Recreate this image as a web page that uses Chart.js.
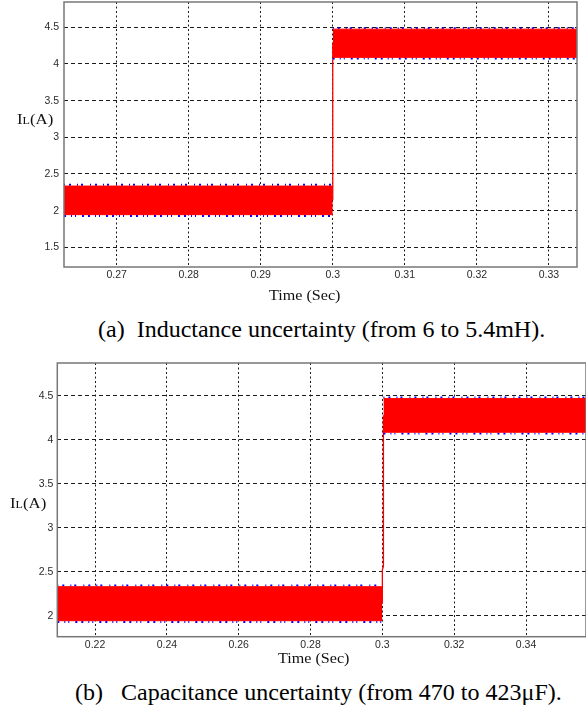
<!DOCTYPE html>
<html>
<head>
<meta charset="utf-8">
<script src="https://cdn.jsdelivr.net/npm/chart.js@4.4.1/dist/chart.umd.min.js"></script>
<style>
html,body{margin:0;padding:0;background:#fff;width:586px;height:711px;overflow:hidden;}
#wrap{position:relative;width:586px;height:711px;}
canvas{position:absolute;left:0;}
.t{position:absolute;font-family:'Liberation Serif','Times New Roman',serif;color:#111;white-space:pre;transform-origin:0 0;}
</style>
</head>
<body>
<div id="wrap">
<canvas id="ca" style="top:0px" width="586" height="290"></canvas>
<canvas id="cb" style="top:345px" width="586" height="315"></canvas>
<div class="t" style="left:17px;top:112.8px;font-size:14px;line-height:14px;transform:scaleX(1.2)">I<span style="font-size:10px">L</span>(A)</div>
<div class="t" style="left:269px;top:289px;font-size:14px;line-height:14px;transform:scaleX(1.15)">Time (Sec)</div>
<div class="t" style="left:98px;top:317px;font-size:24px;line-height:24px;color:#000">(a)  Inductance uncertainty (from 6 to 5.4mH).</div>
<div class="t" style="left:10px;top:497px;font-size:14px;line-height:14px;transform:scaleX(1.2)">I<span style="font-size:10px">L</span>(A)</div>
<div class="t" style="left:278px;top:651.8px;font-size:14px;line-height:14px;transform:scaleX(1.15)">Time (Sec)</div>
<div class="t" style="left:75px;top:680px;font-size:24px;line-height:24px;color:#000">(b)   Capacitance uncertainty (from 470 to 423μF).</div>
</div>
<script>
// ---------- (a) Inductance uncertainty ----------
const xTicksA = [0.27, 0.28, 0.29, 0.30, 0.31, 0.32, 0.33];
const xTickLabelsA = ['0.27', '0.28', '0.29', '0.3', '0.31', '0.32', '0.33'];
const yTicksA = [1.5, 2, 2.5, 3, 3.5, 4, 4.5];
const yTickLabelsA = ['1.5', '2', '2.5', '3', '3.5', '4', '4.5'];
const timeLowA = [0.2627, 0.2750, 0.2875, 0.3000];
const lowUpperA = [2.335, 2.335, 2.335, 2.335];
const lowLowerA = [1.945, 1.945, 1.945, 1.945];
const lowBlueUpperA = [2.352, 2.352, 2.352, 2.352];
const lowBlueLowerA = [1.928, 1.928, 1.928, 1.928];
const timeHighA = [0.3000, 0.3113, 0.3226, 0.3339];
const highUpperA = [4.475, 4.475, 4.475, 4.475];
const highLowerA = [4.090, 4.090, 4.090, 4.090];
const highBlueUpperA = [4.488, 4.488, 4.488, 4.488];
const highBlueLowerA = [4.076, 4.076, 4.076, 4.076];
const stepTimeA = [0.3000, 0.3000];
const stepValueA = [2.14, 4.28];

// ---------- (b) Capacitance uncertainty ----------
const xTicksB = [0.22, 0.24, 0.26, 0.28, 0.30, 0.32, 0.34];
const xTickLabelsB = ['0.22', '0.24', '0.26', '0.28', '0.3', '0.32', '0.34'];
const yTicksB = [2, 2.5, 3, 3.5, 4, 4.5];
const yTickLabelsB = ['2', '2.5', '3', '3.5', '4', '4.5'];
const timeLowB = [0.2095, 0.2400, 0.2700, 0.3000];
const lowUpperB = [2.330, 2.330, 2.330, 2.330];
const lowLowerB = [1.943, 1.943, 1.943, 1.943];
const lowBlueUpperB = [2.344, 2.344, 2.344, 2.344];
const lowBlueLowerB = [1.928, 1.928, 1.928, 1.928];
const timeHighB = [0.3003, 0.3200, 0.3400, 0.3567];
const highUpperB = [4.470, 4.470, 4.470, 4.470];
const highLowerB = [4.087, 4.087, 4.087, 4.087];
const highBlueUpperB = [4.482, 4.482, 4.482, 4.482];
const highBlueLowerB = [4.074, 4.074, 4.074, 4.074];
const stepTimeB = [0.3000, 0.3000, 0.3003, 0.3003];
const stepValueB = [2.14, 2.52, 2.56, 4.28];

const RED = '#ff0000';
const BLUE = '#0000ff';

function pts(xs, ys) { return xs.map((x, i) => ({ x: x, y: ys[i] })); }

const boxPlugin = {
  id: 'box',
  afterDatasetsDraw(chart) {
    const a = chart.chartArea;
    const ctx = chart.ctx;
    ctx.save();
    ctx.strokeStyle = '#777';
    ctx.lineWidth = 1.5;
    ctx.strokeRect(a.left, a.top, a.right - a.left, a.bottom - a.top);
    ctx.restore();
  }
};

function bandSets(t, up, lo, bup, blo) {
  return [
    { data: pts(t, up), borderColor: RED, borderWidth: 1, backgroundColor: RED, fill: '+1', pointRadius: 0 },
    { data: pts(t, lo), borderColor: RED, borderWidth: 1, pointRadius: 0, fill: false },
    { data: pts(t, bup), borderColor: BLUE, borderWidth: 2, borderDash: [1, 4, 2, 6, 1, 3, 2, 7], pointRadius: 0, fill: false },
    { data: pts(t, blo), borderColor: BLUE, borderWidth: 2, borderDash: [2, 5, 1, 3, 1, 6, 2, 4], pointRadius: 0, fill: false }
  ];
}

function build(id, o) {
  const datasets = []
    .concat(bandSets(o.tLow, o.lowU, o.lowL, o.lowBU, o.lowBL))
    .concat(bandSets(o.tHigh, o.highU, o.highL, o.highBU, o.highBL));
  datasets.push({ data: pts(o.stepT, o.stepV), borderColor: RED, borderWidth: 1.3, pointRadius: 0, fill: false });
  return new Chart(document.getElementById(id), {
    type: 'line',
    data: { datasets: datasets },
    plugins: [boxPlugin],
    options: {
      responsive: false,
      animation: false,
      events: [],
      layout: { padding: o.pad },
      plugins: { legend: { display: false }, tooltip: { enabled: false }, title: { display: false } },
      elements: { line: { tension: 0 } },
      scales: {
        x: {
          type: 'linear', min: o.xMin, max: o.xMax,
          afterBuildTicks: s => { s.ticks = o.xTicks.map(v => ({ value: v })); },
          afterFit: s => { s.height = o.xH; s.paddingLeft = 0; s.paddingRight = 0; s.paddingTop = 0; s.paddingBottom = 0; },
          ticks: {
            autoSkip: false, maxRotation: 0, minRotation: 0, padding: 2, color: '#2b2b2b',
            font: { family: 'Liberation Sans', size: 10.5 },
            callback: v => o.xLabels[o.xTicks.indexOf(v)]
          },
          grid: { color: '#1a1a1a', lineWidth: 1, drawTicks: false },
          border: { display: false, dash: [2, 2.5] }
        },
        y: {
          type: 'linear', min: o.yMin, max: o.yMax,
          afterBuildTicks: s => { s.ticks = o.yTicks.map(v => ({ value: v })); },
          afterFit: s => { s.width = o.yW; s.paddingLeft = 0; s.paddingRight = 0; s.paddingTop = 0; s.paddingBottom = 0; },
          ticks: {
            autoSkip: false, padding: o.yPad, color: '#2b2b2b',
            font: { family: 'Liberation Sans', size: 10.5 },
            callback: v => o.yLabels[o.yTicks.indexOf(v)]
          },
          grid: { color: '#1a1a1a', lineWidth: 1, drawTicks: false },
          border: { display: false, dash: [4, 3] }
        }
      }
    }
  });
}

build('ca', {
  tLow: timeLowA, lowU: lowUpperA, lowL: lowLowerA, lowBU: lowBlueUpperA, lowBL: lowBlueLowerA,
  tHigh: timeHighA, highU: highUpperA, highL: highLowerA, highBU: highBlueUpperA, highBL: highBlueLowerA,
  stepT: stepTimeA, stepV: stepValueA,
  xTicks: xTicksA, xLabels: xTickLabelsA, yTicks: yTicksA, yLabels: yTickLabelsA,
  xMin: 0.2627, xMax: 0.3339, yMin: 1.231, yMax: 4.845,
  pad: { top: 2, right: 9, left: 0, bottom: 0 }, xH: 23, yW: 64, yPad: 5
});

build('cb', {
  tLow: timeLowB, lowU: lowUpperB, lowL: lowLowerB, lowBU: lowBlueUpperB, lowBL: lowBlueLowerB,
  tHigh: timeHighB, highU: highUpperB, highL: highLowerB, highBU: highBlueUpperB, highBL: highBlueLowerB,
  stepT: stepTimeB, stepV: stepValueB,
  xTicks: xTicksB, xLabels: xTickLabelsB, yTicks: yTicksB, yLabels: yTickLabelsB,
  xMin: 0.2095, xMax: 0.3567, yMin: 1.761, yMax: 4.875,
  pad: { top: 18, right: 0, left: 0, bottom: 0 }, xH: 23.3, yW: 57.3, yPad: 4
});
</script>
</body>
</html>
